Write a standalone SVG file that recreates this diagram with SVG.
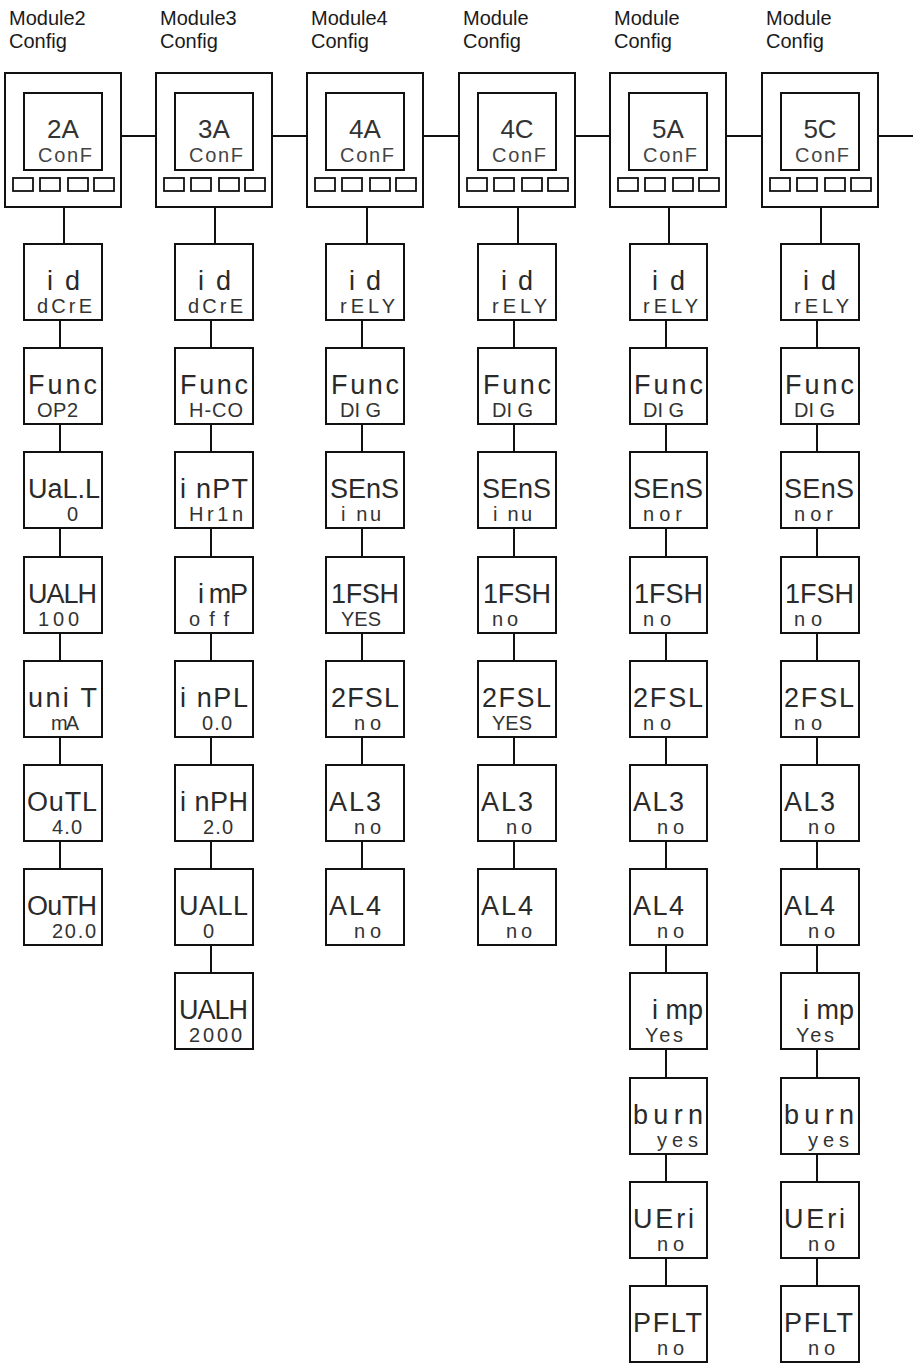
<svg xmlns="http://www.w3.org/2000/svg" width="919" height="1363" viewBox="0 0 919 1363">
<style>
.bg{fill:#fff}
.box{fill:#fff;stroke:#111;stroke-width:2}
.btn{fill:#fff;stroke:#111;stroke-width:1.8}
.c{stroke:#111;stroke-width:2;fill:none}
.h{font-family:'Liberation Sans',Arial,sans-serif;font-size:20px;fill:#1a1a1a}
.m{font-family:'Liberation Sans',Arial,sans-serif;font-size:27px;fill:#2a2a2a;font-variant-ligatures:none}
.s{font-family:'Liberation Sans',Arial,sans-serif;font-size:20px;fill:#333;font-variant-ligatures:none}
.dm{font-family:'Liberation Sans',Arial,sans-serif;font-size:26px;fill:#333;text-anchor:middle}
.ds{font-family:'Liberation Sans',Arial,sans-serif;font-size:20px;fill:#444}
</style>
<rect class="bg" x="0" y="0" width="919" height="1363"/>

<g id="headers">
<text class="h" x="9" y="25">Module2</text><text class="h" x="9" y="48">Config</text>
<text class="h" x="160" y="25">Module3</text><text class="h" x="160" y="48">Config</text>
<text class="h" x="311" y="25">Module4</text><text class="h" x="311" y="48">Config</text>
<text class="h" x="463" y="25">Module</text><text class="h" x="463" y="48">Config</text>
<text class="h" x="614" y="25">Module</text><text class="h" x="614" y="48">Config</text>
<text class="h" x="766" y="25">Module</text><text class="h" x="766" y="48">Config</text>
</g>

<g id="connectors">
<line class="c" x1="121" y1="136" x2="156" y2="136"/>
<line class="c" x1="272" y1="136" x2="307" y2="136"/>
<line class="c" x1="423" y1="136" x2="459" y2="136"/>
<line class="c" x1="575" y1="136" x2="610" y2="136"/>
<line class="c" x1="726" y1="136" x2="762" y2="136"/>
<line class="c" x1="878" y1="136" x2="913" y2="136"/>
<line class="c" x1="64" y1="207" x2="64" y2="244"/>
<line class="c" x1="215" y1="207" x2="215" y2="244"/>
<line class="c" x1="367" y1="207" x2="367" y2="244"/>
<line class="c" x1="518" y1="207" x2="518" y2="244"/>
<line class="c" x1="669" y1="207" x2="669" y2="244"/>
<line class="c" x1="821" y1="207" x2="821" y2="244"/>
<path class="c" d="M60 320V348M60 424V452M60 528V557M60 633V661M60 737V765M60 841V869"/>
<path class="c" d="M211 320V348M211 424V452M211 528V557M211 633V661M211 737V765M211 841V869M211 945V973"/>
<path class="c" d="M362 320V348M362 424V452M362 528V557M362 633V661M362 737V765M362 841V869"/>
<path class="c" d="M514 320V348M514 424V452M514 528V557M514 633V661M514 737V765M514 841V869"/>
<path class="c" d="M666 320V348M666 424V452M666 528V557M666 633V661M666 737V765M666 841V869M666 945V973M666 1049V1078M666 1154V1182M666 1258V1286"/>
<path class="c" d="M817 320V348M817 424V452M817 528V557M817 633V661M817 737V765M817 841V869M817 945V973M817 1049V1078M817 1154V1182M817 1258V1286"/>
</g>

<g id="dev-2A">
<rect class="box" x="5" y="73" width="116" height="134"/>
<rect class="box" x="24" y="93" width="78" height="77"/>
<rect class="btn" x="13" y="178" width="20" height="13"/><rect class="btn" x="40" y="178" width="20" height="13"/><rect class="btn" x="68" y="178" width="20" height="13"/><rect class="btn" x="94" y="178" width="20" height="13"/>
<text class="dm" x="63" y="138">2A</text>
<text class="ds" x="38" y="162" textLength="54">ConF</text>
</g>
<g id="dev-3A">
<rect class="box" x="156" y="73" width="116" height="134"/>
<rect class="box" x="175" y="93" width="78" height="77"/>
<rect class="btn" x="164" y="178" width="20" height="13"/><rect class="btn" x="191" y="178" width="20" height="13"/><rect class="btn" x="219" y="178" width="20" height="13"/><rect class="btn" x="245" y="178" width="20" height="13"/>
<text class="dm" x="214" y="138">3A</text>
<text class="ds" x="189" y="162" textLength="54">ConF</text>
</g>
<g id="dev-4A">
<rect class="box" x="307" y="73" width="116" height="134"/>
<rect class="box" x="326" y="93" width="78" height="77"/>
<rect class="btn" x="315" y="178" width="20" height="13"/><rect class="btn" x="342" y="178" width="20" height="13"/><rect class="btn" x="370" y="178" width="20" height="13"/><rect class="btn" x="396" y="178" width="20" height="13"/>
<text class="dm" x="365" y="138">4A</text>
<text class="ds" x="340" y="162" textLength="54">ConF</text>
</g>
<g id="dev-4C">
<rect class="box" x="459" y="73" width="116" height="134"/>
<rect class="box" x="478" y="93" width="78" height="77"/>
<rect class="btn" x="467" y="178" width="20" height="13"/><rect class="btn" x="494" y="178" width="20" height="13"/><rect class="btn" x="522" y="178" width="20" height="13"/><rect class="btn" x="548" y="178" width="20" height="13"/>
<text class="dm" x="517" y="138">4C</text>
<text class="ds" x="492" y="162" textLength="54">ConF</text>
</g>
<g id="dev-5A">
<rect class="box" x="610" y="73" width="116" height="134"/>
<rect class="box" x="629" y="93" width="78" height="77"/>
<rect class="btn" x="618" y="178" width="20" height="13"/><rect class="btn" x="645" y="178" width="20" height="13"/><rect class="btn" x="673" y="178" width="20" height="13"/><rect class="btn" x="699" y="178" width="20" height="13"/>
<text class="dm" x="668" y="138">5A</text>
<text class="ds" x="643" y="162" textLength="54">ConF</text>
</g>
<g id="dev-5C">
<rect class="box" x="762" y="73" width="116" height="134"/>
<rect class="box" x="781" y="93" width="78" height="77"/>
<rect class="btn" x="770" y="178" width="20" height="13"/><rect class="btn" x="797" y="178" width="20" height="13"/><rect class="btn" x="825" y="178" width="20" height="13"/><rect class="btn" x="851" y="178" width="20" height="13"/>
<text class="dm" x="820" y="138">5C</text>
<text class="ds" x="795" y="162" textLength="54">ConF</text>
</g>

<!-- Column 1 -->
<g id="c1-id"><rect class="box" x="24" y="244" width="78" height="76"/><text class="m" x="47" y="290" textLength="33">i d</text><text class="s" x="37" y="313" textLength="55">dCrE</text></g>
<g id="c1-func"><rect class="box" x="24" y="348" width="78" height="76"/><text class="m" x="28" y="394" textLength="69">Func</text><text class="s" x="37" y="417" textLength="41">OP2</text></g>
<g id="c1-uall"><rect class="box" x="24" y="452" width="78" height="76"/><text class="m" x="28" y="498" textLength="72">UaL.L</text><text class="s" x="67" y="521">0</text></g>
<g id="c1-ualh"><rect class="box" x="24" y="557" width="78" height="76"/><text class="m" x="28" y="603" textLength="69">UALH</text><text class="s" x="38" y="626" textLength="41">100</text></g>
<g id="c1-unit"><rect class="box" x="24" y="661" width="78" height="76"/><text class="m" x="28" y="707" textLength="69">uni T</text><text class="s" x="51" y="730" textLength="28">mA</text></g>
<g id="c1-outl"><rect class="box" x="24" y="765" width="78" height="76"/><text class="m" x="27" y="811" textLength="70">OuTL</text><text class="s" x="52" y="834" textLength="30">4.0</text></g>
<g id="c1-outh"><rect class="box" x="24" y="869" width="78" height="76"/><text class="m" x="27" y="915" textLength="70">OuTH</text><text class="s" x="52" y="938" textLength="44">20.0</text></g>

<!-- Column 2 -->
<g id="c2-id"><rect class="box" x="175" y="244" width="78" height="76"/><text class="m" x="198" y="290" textLength="33">i d</text><text class="s" x="188" y="313" textLength="55">dCrE</text></g>
<g id="c2-func"><rect class="box" x="175" y="348" width="78" height="76"/><text class="m" x="180" y="394" textLength="68">Func</text><text class="s" x="189" y="417" textLength="54">H-CO</text></g>
<g id="c2-inpt"><rect class="box" x="175" y="452" width="78" height="76"/><text class="m" x="180" y="498" textLength="68">i nPT</text><text class="s" x="189" y="521" textLength="54">Hr1n</text></g>
<g id="c2-imp"><rect class="box" x="175" y="557" width="78" height="76"/><text class="m" x="198" y="603" textLength="50">i mP</text><text class="s" x="189" y="626" textLength="40">off</text></g>
<g id="c2-inpl"><rect class="box" x="175" y="661" width="78" height="76"/><text class="m" x="180" y="707" textLength="68">i nPL</text><text class="s" x="202" y="730" textLength="30">0.0</text></g>
<g id="c2-inph"><rect class="box" x="175" y="765" width="78" height="76"/><text class="m" x="180" y="811" textLength="68">i nPH</text><text class="s" x="203" y="834" textLength="30">2.0</text></g>
<g id="c2-uall"><rect class="box" x="175" y="869" width="78" height="76"/><text class="m" x="179" y="915" textLength="69">UALL</text><text class="s" x="203" y="938">0</text></g>
<g id="c2-ualh"><rect class="box" x="175" y="973" width="78" height="76"/><text class="m" x="179" y="1019" textLength="69">UALH</text><text class="s" x="189" y="1042" textLength="53">2000</text></g>

<!-- Column 3 -->
<g id="c3-id"><rect class="box" x="326" y="244" width="78" height="76"/><text class="m" x="349" y="290" textLength="32">i d</text><text class="s" x="340" y="313" textLength="55">rELY</text></g>
<g id="c3-func"><rect class="box" x="326" y="348" width="78" height="76"/><text class="m" x="331" y="394" textLength="68">Func</text><text class="s" x="340" y="417" textLength="41">DI G</text></g>
<g id="c3-sens"><rect class="box" x="326" y="452" width="78" height="76"/><text class="m" x="330" y="498" textLength="69">SEnS</text><text class="s" x="341" y="521" textLength="40">i nu</text></g>
<g id="c3-1fsh"><rect class="box" x="326" y="557" width="78" height="76"/><text class="m" x="331" y="603" textLength="68">1FSH</text><text class="s" x="341" y="626" textLength="40">YES</text></g>
<g id="c3-2fsl"><rect class="box" x="326" y="661" width="78" height="76"/><text class="m" x="331" y="707" textLength="68">2FSL</text><text class="s" x="354" y="730" textLength="27">no</text></g>
<g id="c3-al3"><rect class="box" x="326" y="765" width="78" height="76"/><text class="m" x="329" y="811" textLength="52">AL3</text><text class="s" x="354" y="834" textLength="27">no</text></g>
<g id="c3-al4"><rect class="box" x="326" y="869" width="78" height="76"/><text class="m" x="329" y="915" textLength="52">AL4</text><text class="s" x="354" y="938" textLength="27">no</text></g>

<!-- Column 4 -->
<g id="c4-id"><rect class="box" x="478" y="244" width="78" height="76"/><text class="m" x="501" y="290" textLength="32">i d</text><text class="s" x="492" y="313" textLength="55">rELY</text></g>
<g id="c4-func"><rect class="box" x="478" y="348" width="78" height="76"/><text class="m" x="483" y="394" textLength="68">Func</text><text class="s" x="492" y="417" textLength="41">DI G</text></g>
<g id="c4-sens"><rect class="box" x="478" y="452" width="78" height="76"/><text class="m" x="482" y="498" textLength="69">SEnS</text><text class="s" x="493" y="521" textLength="39">i nu</text></g>
<g id="c4-1fsh"><rect class="box" x="478" y="557" width="78" height="76"/><text class="m" x="483" y="603" textLength="68">1FSH</text><text class="s" x="492" y="626" textLength="26">no</text></g>
<g id="c4-2fsl"><rect class="box" x="478" y="661" width="78" height="76"/><text class="m" x="482" y="707" textLength="69">2FSL</text><text class="s" x="492" y="730" textLength="40">YES</text></g>
<g id="c4-al3"><rect class="box" x="478" y="765" width="78" height="76"/><text class="m" x="481" y="811" textLength="52">AL3</text><text class="s" x="506" y="834" textLength="26">no</text></g>
<g id="c4-al4"><rect class="box" x="478" y="869" width="78" height="76"/><text class="m" x="481" y="915" textLength="52">AL4</text><text class="s" x="506" y="938" textLength="26">no</text></g>

<!-- Column 5 -->
<g id="c5-id"><rect class="box" x="630" y="244" width="77" height="76"/><text class="m" x="652" y="290" textLength="33">i d</text><text class="s" x="643" y="313" textLength="55">rELY</text></g>
<g id="c5-func"><rect class="box" x="630" y="348" width="77" height="76"/><text class="m" x="634" y="394" textLength="69">Func</text><text class="s" x="643" y="417" textLength="41">DI G</text></g>
<g id="c5-sens"><rect class="box" x="630" y="452" width="77" height="76"/><text class="m" x="633" y="498" textLength="70">SEnS</text><text class="s" x="643" y="521" textLength="39">nor</text></g>
<g id="c5-1fsh"><rect class="box" x="630" y="557" width="77" height="76"/><text class="m" x="634" y="603" textLength="69">1FSH</text><text class="s" x="643" y="626" textLength="28">no</text></g>
<g id="c5-2fsl"><rect class="box" x="630" y="661" width="77" height="76"/><text class="m" x="633" y="707" textLength="70">2FSL</text><text class="s" x="643" y="730" textLength="28">no</text></g>
<g id="c5-al3"><rect class="box" x="630" y="765" width="77" height="76"/><text class="m" x="633" y="811" textLength="51">AL3</text><text class="s" x="657" y="834" textLength="27">no</text></g>
<g id="c5-al4"><rect class="box" x="630" y="869" width="77" height="76"/><text class="m" x="633" y="915" textLength="51">AL4</text><text class="s" x="657" y="938" textLength="27">no</text></g>
<g id="c5-imp"><rect class="box" x="630" y="973" width="77" height="76"/><text class="m" x="652" y="1019" textLength="51">i mp</text><text class="s" x="645" y="1042" textLength="38">Yes</text></g>
<g id="c5-burn"><rect class="box" x="630" y="1078" width="77" height="76"/><text class="m" x="633" y="1124" textLength="70">burn</text><text class="s" x="657" y="1147" textLength="41">yes</text></g>
<g id="c5-ueri"><rect class="box" x="630" y="1182" width="77" height="76"/><text class="m" x="633" y="1228" textLength="61">UEri</text><text class="s" x="657" y="1251" textLength="27">no</text></g>
<g id="c5-pflt"><rect class="box" x="630" y="1286" width="77" height="76"/><text class="m" x="633" y="1332" textLength="69">PFLT</text><text class="s" x="657" y="1355" textLength="27">no</text></g>

<!-- Column 6 -->
<g id="c6-id"><rect class="box" x="781" y="244" width="78" height="76"/><text class="m" x="803" y="290" textLength="33">i d</text><text class="s" x="794" y="313" textLength="55">rELY</text></g>
<g id="c6-func"><rect class="box" x="781" y="348" width="78" height="76"/><text class="m" x="785" y="394" textLength="69">Func</text><text class="s" x="794" y="417" textLength="41">DI G</text></g>
<g id="c6-sens"><rect class="box" x="781" y="452" width="78" height="76"/><text class="m" x="784" y="498" textLength="70">SEnS</text><text class="s" x="794" y="521" textLength="39">nor</text></g>
<g id="c6-1fsh"><rect class="box" x="781" y="557" width="78" height="76"/><text class="m" x="785" y="603" textLength="69">1FSH</text><text class="s" x="794" y="626" textLength="28">no</text></g>
<g id="c6-2fsl"><rect class="box" x="781" y="661" width="78" height="76"/><text class="m" x="784" y="707" textLength="70">2FSL</text><text class="s" x="794" y="730" textLength="28">no</text></g>
<g id="c6-al3"><rect class="box" x="781" y="765" width="78" height="76"/><text class="m" x="784" y="811" textLength="51">AL3</text><text class="s" x="808" y="834" textLength="27">no</text></g>
<g id="c6-al4"><rect class="box" x="781" y="869" width="78" height="76"/><text class="m" x="784" y="915" textLength="51">AL4</text><text class="s" x="808" y="938" textLength="27">no</text></g>
<g id="c6-imp"><rect class="box" x="781" y="973" width="78" height="76"/><text class="m" x="803" y="1019" textLength="51">i mp</text><text class="s" x="796" y="1042" textLength="38">Yes</text></g>
<g id="c6-burn"><rect class="box" x="781" y="1078" width="78" height="76"/><text class="m" x="784" y="1124" textLength="70">burn</text><text class="s" x="808" y="1147" textLength="41">yes</text></g>
<g id="c6-ueri"><rect class="box" x="781" y="1182" width="78" height="76"/><text class="m" x="784" y="1228" textLength="61">UEri</text><text class="s" x="808" y="1251" textLength="27">no</text></g>
<g id="c6-pflt"><rect class="box" x="781" y="1286" width="78" height="76"/><text class="m" x="784" y="1332" textLength="69">PFLT</text><text class="s" x="808" y="1355" textLength="27">no</text></g>
</svg>
